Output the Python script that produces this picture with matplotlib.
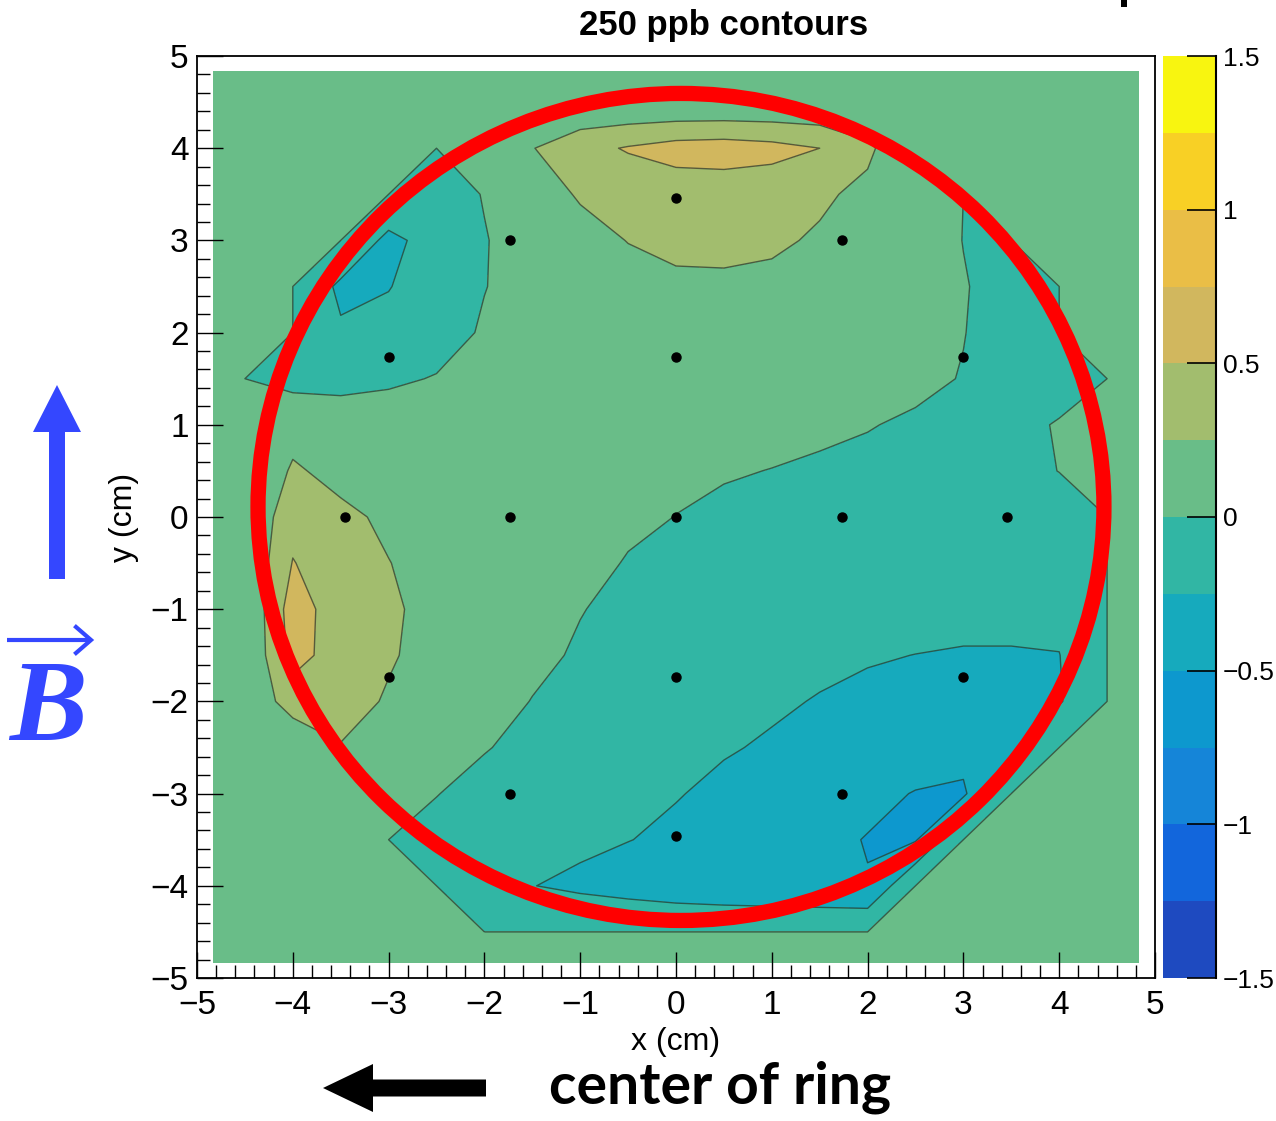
import numpy as np
import matplotlib
matplotlib.use("Agg")
import matplotlib.pyplot as plt
from matplotlib.colors import ListedColormap, BoundaryNorm
from matplotlib.patches import Ellipse, FancyArrow, Rectangle
from matplotlib.ticker import MultipleLocator

plt.rcParams['font.family'] = ['Liberation Sans', 'DejaVu Sans']
plt.rcParams['contour.negative_linestyle'] = 'solid'

# ---------------- data ----------------
title = "250 ppb contours"

# grid nodes (cm)
x_nodes = [-4.833, -4.5, -4.0, -3.5, -3.0, -2.5, -2.0, -1.5, -1.0, -0.5, 0.0,
           0.5, 1.0, 1.5, 2.0, 2.5, 3.0, 3.5, 4.0, 4.5, 4.833]
y_nodes_top_down = [4.833, 4.5, 4.0, 3.5, 3.0, 2.5, 2.0, 1.5, 1.0, 0.5, 0.0,
                    -0.5, -1.0, -1.5, -2.0, -2.5, -3.0, -3.5, -4.0, -4.5, -4.833]

# field deviation (ppm) at the nodes, rows from top (y=4.833) to bottom (y=-4.833)
field_rows = [
    [0]*21,
    [0]*21,
    [0, 0, 0, 0, 0, 0, 0.02, 0.24, 0.42, 0.52, 0.60, 0.62, 0.58, 0.50, 0.30, 0, 0, 0, 0, 0, 0],
    [0, 0, 0, 0, 0, -0.10, 0.01, 0.15, 0.27, 0.34, 0.36, 0.36, 0.35, 0.29, 0.19, 0.08, 0, 0, 0, 0, 0],
    [0, 0, 0, 0, -0.32, -0.14, -0.01, 0.09, 0.18, 0.255, 0.30, 0.31, 0.29, 0.22, 0.13, 0.06, -0.002, 0, 0, 0, 0],
    [0, 0, 0, -0.30, -0.26, -0.12, -0.005, 0.07, 0.13, 0.18, 0.21, 0.21, 0.19, 0.14, 0.09, 0.05, 0.006, -0.04, 0, 0, 0],
    [0, 0, 0, -0.22, -0.17, -0.08, 0.02, 0.07, 0.10, 0.13, 0.14, 0.14, 0.13, 0.10, 0.07, 0.04, 0.003, -0.05, 0, 0, 0],
    [0, 0, -0.07, -0.07, -0.03, 0.01, 0.04, 0.06, 0.08, 0.09, 0.09, 0.09, 0.08, 0.06, 0.04, 0.025, -0.005, -0.05, -0.06, 0, 0],
    [0, 0, 0.16, 0.12, 0.10, 0.08, 0.07, 0.06, 0.06, 0.06, 0.05, 0.04, 0.03, 0.02, 0.005, -0.015, -0.04, -0.04, 0.01, 0, 0],
    [0, 0, 0.28, 0.18, 0.13, 0.10, 0.08, 0.06, 0.04, 0.025, 0.015, 0.008, -0.002, -0.015, -0.026, -0.04, -0.05, -0.04, 0.002, 0, 0],
    [0, 0, 0.42, 0.30, 0.21, 0.15, 0.10, 0.06, 0.035, 0.015, -0.001, -0.02, -0.04, -0.06, -0.075, -0.085, -0.09, -0.08, -0.06, 0, 0],
    [0, 0, 0.51, 0.36, 0.255, 0.17, 0.11, 0.06, 0.025, -0.005, -0.04, -0.07, -0.09, -0.11, -0.12, -0.13, -0.13, -0.12, -0.10, 0, 0],
    [0, 0, 0.62, 0.37, 0.28, 0.19, 0.12, 0.06, 0.006, -0.04, -0.08, -0.11, -0.14, -0.16, -0.17, -0.18, -0.19, -0.19, -0.19, 0, 0],
    [0, 0, 0.58, 0.40, 0.27, 0.18, 0.10, 0.04, -0.02, -0.07, -0.11, -0.15, -0.18, -0.21, -0.235, -0.252, -0.265, -0.265, -0.255, 0, 0],
    [0, 0, 0.39, 0.33, 0.23, 0.15, 0.07, -0.005, -0.06, -0.11, -0.15, -0.19, -0.225, -0.26, -0.29, -0.31, -0.32, -0.31, -0.27, 0, 0],
    [0, 0, 0, 0.24, 0.17, 0.08, 0.01, -0.05, -0.10, -0.15, -0.195, -0.235, -0.27, -0.31, -0.35, -0.38, -0.41, -0.37, 0, 0, 0],
    [0, 0, 0, 0.10, 0.07, 0.005, -0.06, -0.11, -0.15, -0.20, -0.24, -0.29, -0.34, -0.39, -0.44, -0.51, -0.54, 0, 0, 0, 0],
    [0, 0, 0, 0, 0, -0.06, -0.11, -0.16, -0.20, -0.245, -0.29, -0.34, -0.39, -0.44, -0.51, -0.52, 0, 0, 0, 0, 0],
    [0, 0, 0, 0, 0, 0, -0.13, -0.245, -0.30, -0.35, -0.40, -0.43, -0.45, -0.47, -0.49, 0, 0, 0, 0, 0, 0],
    [0]*21,
    [0]*21,
]

# probe positions (cm)
probe_x = [0.0, -1.73, 1.73, -3.0, 0.0, 3.0, -3.46, -1.73, 0.0, 1.73, 3.46,
           -3.0, 0.0, 3.0, -1.73, 1.73, 0.0]
probe_y = [3.46, 3.0, 3.0, 1.73, 1.73, 1.73, 0.0, 0.0, 0.0, 0.0, 0.0,
           -1.73, -1.73, -1.73, -3.0, -3.0, -3.46]

band_levels = [-1.5, -1.25, -1.0, -0.75, -0.5, -0.25, 0.0, 0.25, 0.5, 0.75, 1.0, 1.25, 1.5]
band_colors = ['#1e4ac0', '#1266dc', '#1585d8', '#0d98ce', '#16aabd', '#31b6a4',
               '#69bd88', '#a2bd6e', '#d1b75e', '#eabe46', '#f8d025', '#f8f510']
cbar_ticks = [-1.5, -1.0, -0.5, 0.0, 0.5, 1.0, 1.5]
cbar_labels = ['\u22121.5', '\u22121', '\u22120.5', '0', '0.5', '1', '1.5']

# ---------------- figure ----------------
W, H = 1276, 1121
fig = plt.figure(figsize=(W / 100, H / 100), dpi=100)


def px_rect(x0, y0, x1, y1):
    return [x0 / W, 1 - y1 / H, (x1 - x0) / W, (y1 - y0) / H]


ax = fig.add_axes(px_rect(197, 56, 1155, 978))
cax = fig.add_axes(px_rect(1163, 56, 1216, 978))

X, Y = np.meshgrid(x_nodes, y_nodes_top_down[::-1])
Z = np.array(field_rows, dtype=float)[::-1]

# empty (zero) bins belong to the [0, 0.25) band, as in the ROOT plot
levels = list(band_levels)
levels[6] = -1e-6
cmap = ListedColormap(band_colors)
norm = BoundaryNorm(levels, cmap.N)
cf = ax.contourf(X, Y, Z, levels=levels, cmap=cmap, norm=norm, zorder=1)
ax.contour(X, Y, Z, levels=levels[1:-1], colors='#23332c', linewidths=1.0,
           alpha=0.7, zorder=2)

ax.plot(probe_x, probe_y, 'o', color='black', ms=6.5, zorder=6)

ax.add_patch(Ellipse((0.052, 0.109), 8.83, 8.97, fill=False, edgecolor='#ff0000',
                     lw=11, zorder=5))

ax.set_xlim(-5, 5)
ax.set_ylim(-5, 5)
for axis in (ax.xaxis, ax.yaxis):
    axis.set_major_locator(MultipleLocator(1))
    axis.set_minor_locator(MultipleLocator(0.2))
ax.tick_params(which='both', direction='in', top=False, right=False, width=1.0)
ax.tick_params(which='major', length=19, labelsize=24)
ax.tick_params(which='minor', length=9.5)
ax.tick_params(axis='x', pad=9)
ax.tick_params(axis='y', pad=6)
for sp in ax.spines.values():
    sp.set_linewidth(1.3)
ax.set_xlabel('x (cm)', fontsize=23, labelpad=4)
ax.set_ylabel('y (cm)', fontsize=23, labelpad=8)

cb = fig.colorbar(cf, cax=cax, ticks=cbar_ticks)
cb.outline.set_visible(False)
cb.minorticks_off()
cb.set_ticklabels(cbar_labels)
cax.tick_params(direction='in', length=21, width=1.2, labelsize=19, pad=5,
                right=True, left=False)
cax.plot([1, 1], [0, 1], transform=cax.transAxes, color='black', lw=1.5,
         clip_on=False)

fig.text(724 / W, 1 - 26 / H, title, ha='center', va='center', fontsize=25,
         fontweight='bold')

# ---------------- annotations (pixel overlay) ----------------
ov = fig.add_axes([0, 0, 1, 1])
ov.set_xlim(0, W)
ov.set_ylim(H, 0)
ov.axis('off')
ov.patch.set_alpha(0)

blue = '#3447ff'
ov.add_patch(FancyArrow(57, 579, 0, -194, width=16, head_width=48, head_length=47,
                        length_includes_head=True, color=blue, lw=0))
ov.text(48, 740, 'B', fontsize=84, family=['Liberation Serif', 'DejaVu Serif'],
        weight='bold', style='italic', color=blue, ha='center', va='baseline')
ov.plot([7, 90], [640, 640], color=blue, lw=3, solid_capstyle='butt')
ov.plot([76, 91, 76], [627, 640, 653], color=blue, lw=3, solid_joinstyle='miter')

ov.add_patch(FancyArrow(486, 1088, -163, 0, width=17, head_width=48, head_length=50,
                        length_includes_head=True, color='black', lw=0))
ov.text(720, 1104, 'center of ring', fontsize=41, family=['Lato', 'DejaVu Sans'],
        weight='bold', ha='center', va='baseline', color='black')
ov.add_patch(Rectangle((1121, 0), 6, 7, color='black', lw=0))

fig.savefig('out.png', dpi=100)
